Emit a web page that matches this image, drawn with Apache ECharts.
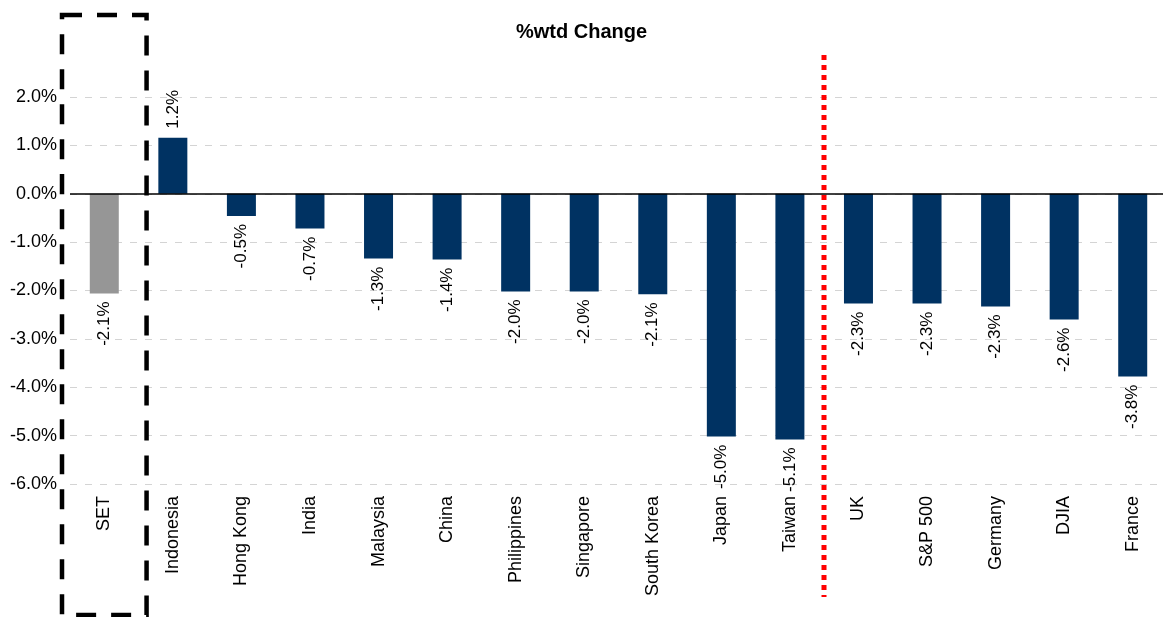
<!DOCTYPE html>
<html>
<head>
<meta charset="utf-8">
<script src="https://cdn.jsdelivr.net/npm/echarts@6/dist/echarts.min.js"></script>
<style>
html,body{margin:0;padding:0;background:#fff;}
#chart{width:1163px;height:617px;}
</style>
</head>
<body>
<div id="chart"></div>
<script>
const categories = ['SET','Indonesia','Hong Kong','India','Malaysia','China','Philippines','Singapore','South Korea','Japan','Taiwan','UK','S&P 500','Germany','DJIA','France'];
const values = [-2.06, 1.16, -0.46, -0.72, -1.34, -1.36, -2.02, -2.02, -2.08, -5.02, -5.08, -2.27, -2.27, -2.33, -2.6, -3.78];
const highlightCategory = 'SET';
const dividerAfter = 'Taiwan';
const yTicks = [-6, -5, -4, -3, -2, -1, 0, 1, 2];

const FONT = 'Liberation Sans, Arial, sans-serif';
const NAVY = '#003262';
const GREY = '#969696';

const barData = values.map((v, i) => ({
  value: v,
  itemStyle: { color: categories[i] === highlightCategory ? GREY : NAVY },
  label: v >= 0
    ? { position: 'top', rotate: 90, align: 'left', verticalAlign: 'middle', distance: 9 }
    : { position: 'bottom', rotate: 90, align: 'right', verticalAlign: 'middle', distance: 8 }
}));

const chart = echarts.init(document.getElementById('chart'), null, { renderer: 'canvas' });
chart.setOption({
  animation: false,
  backgroundColor: '#fff',
  textStyle: { fontFamily: FONT },
  title: {
    text: '%wtd Change',
    left: 'center',
    top: 17,
    textStyle: { fontFamily: FONT, fontSize: 20, fontWeight: 'bold', color: '#000' }
  },
  grid: { left: 70, width: 1097, top: 97, bottom: 133, containLabel: false, outerBoundsMode: 'none' },
  xAxis: {
    type: 'category',
    data: categories,
    axisLine: { show: false },
    axisTick: { show: false },
    axisLabel: { rotate: 90, fontSize: 18, color: '#000', margin: 12, fontFamily: FONT, interval: 0 }
  },
  yAxis: {
    type: 'value',
    min: yTicks[0],
    max: yTicks[yTicks.length - 1],
    interval: 1,
    axisLine: { show: false },
    axisTick: { show: false },
    axisLabel: {
      fontSize: 18, color: '#000', margin: 13, fontFamily: FONT,
      formatter: v => v.toFixed(1) + '%'
    },
    splitLine: { lineStyle: { color: '#d4d4d4', type: [7, 8], width: 1 } }
  },
  series: [{
    type: 'bar',
    data: barData,
    barWidth: 29,
    label: {
      show: true,
      fontSize: 17,
      color: '#000',
      fontFamily: FONT,
      formatter: p => p.value.toFixed(1) + '%'
    },
    markLine: {
      silent: true,
      symbol: 'none',
      label: { show: false },
      lineStyle: { color: '#000', type: 'solid', width: 1.5 },
      data: [{ yAxis: 0 }]
    }
  }]
});

// Annotations positioned from the axes
const hiX = chart.convertToPixel({ xAxisIndex: 0 }, highlightCategory);
const idx = categories.indexOf(dividerAfter);
const x1 = chart.convertToPixel({ xAxisIndex: 0 }, categories[idx]);
const x2 = chart.convertToPixel({ xAxisIndex: 0 }, categories[idx + 1]);
const divX = Math.round((x1 + x2) / 2);
const bandW = x2 - x1;
const halfBox = bandW / 2 + 8;

chart.setOption({
  graphic: [
    {
      type: 'rect',
      shape: { x: hiX - halfBox, y: 15, width: halfBox * 2, height: 600 },
      style: { fill: 'none', stroke: '#000', lineWidth: 4.5, lineDash: [20, 15] },
      silent: true,
      z: 100
    },
    {
      type: 'line',
      shape: { x1: divX, y1: 55, x2: divX, y2: 597 },
      style: { stroke: '#ff0000', lineWidth: 5, lineDash: [5, 5], lineCap: 'butt' },
      silent: true,
      z: 100
    }
  ]
});
</script>
</body>
</html>
